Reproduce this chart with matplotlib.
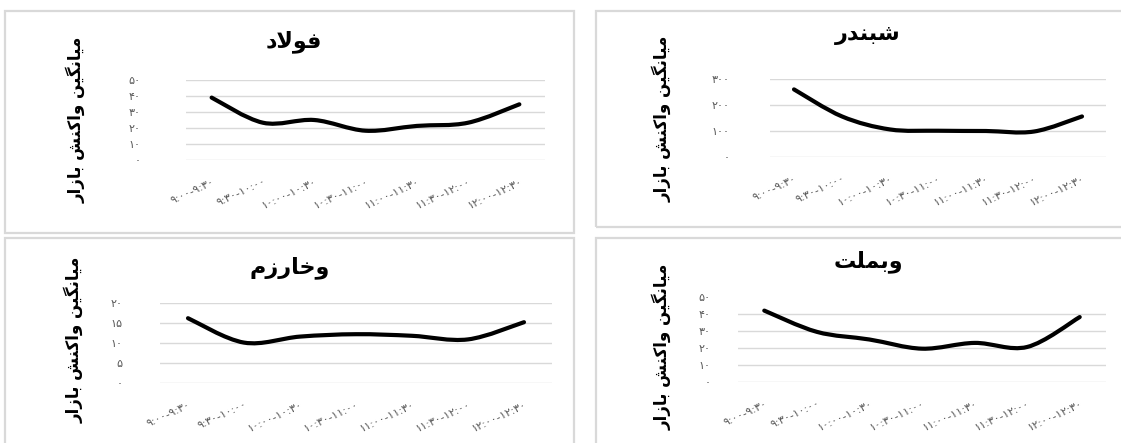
import matplotlib
matplotlib.use("Agg")
import matplotlib.pyplot as plt
from matplotlib.patches import Rectangle, PathPatch
from matplotlib.path import Path
import numpy as np

plt.rcParams['font.family'] = ['DejaVu Sans']

# ---------------- data ----------------
categories = ["9:00-9:30", "9:30-10:00", "10:00-10:30", "10:30-11:00",
              "11:00-11:30", "11:30-12:00", "12:00-12:30"]
y_label_text = "میانگین واکنش بازار"

title_foolad = "فولاد"
values_foolad = [39, 23.3, 25, 18.3, 21.3, 23.3, 34.8]
ticks_foolad = [0, 10, 20, 30, 40, 50]

title_shabandar = "شبندر"
values_shabandar = [260, 156, 106, 101, 100, 98, 156]
ticks_shabandar = [0, 100, 200, 300]

title_kharazm = "وخارزم"
values_kharazm = [16.2, 10.1, 11.6, 12.2, 11.8, 10.9, 15.2]
ticks_kharazm = [0, 5, 10, 15, 20]

title_mellat = "وبملت"
values_mellat = [42, 29.5, 25, 19.6, 23, 20.6, 38.2]
ticks_mellat = [0, 10, 20, 30, 40, 50]

# ---------------- Persian text helpers ----------------
FORMS = {
    'ف': ('\uFED1', '\uFED2', '\uFED3', '\uFED4'),
    'و': ('\uFEED', '\uFEEE', None, None),
    'ل': ('\uFEDD', '\uFEDE', '\uFEDF', '\uFEE0'),
    'ا': ('\uFE8D', '\uFE8E', None, None),
    'د': ('\uFEA9', '\uFEAA', None, None),
    'ش': ('\uFEB5', '\uFEB6', '\uFEB7', '\uFEB8'),
    'ب': ('\uFE8F', '\uFE90', '\uFE91', '\uFE92'),
    'ن': ('\uFEE5', '\uFEE6', '\uFEE7', '\uFEE8'),
    'ر': ('\uFEAD', '\uFEAE', None, None),
    'خ': ('\uFEA5', '\uFEA6', '\uFEA7', '\uFEA8'),
    'ز': ('\uFEAF', '\uFEB0', None, None),
    'م': ('\uFEE1', '\uFEE2', '\uFEE3', '\uFEE4'),
    'ت': ('\uFE95', '\uFE96', '\uFE97', '\uFE98'),
    'ی': ('\uFBFC', '\uFBFD', '\uFBFE', '\uFBFF'),
    'گ': ('\uFB92', '\uFB93', '\uFB94', '\uFB95'),
    'ک': ('\uFB8E', '\uFB8F', '\uFB90', '\uFB91'),
}
LAMALEF = ('\uFEFB', '\uFEFC')


def joins_next(c):
    f = FORMS.get(c)
    return f is not None and f[2] is not None


def shape(text):
    chars = list(text)
    n = len(chars)
    glyphs = []
    i = 0
    while i < n:
        c = chars[i]
        prev = chars[i - 1] if i > 0 else None
        prev_joins = prev is not None and joins_next(prev)
        if c == 'ل' and i + 1 < n and chars[i + 1] == 'ا':
            glyphs.append(LAMALEF[1] if prev_joins else LAMALEF[0])
            i += 2
            continue
        if c not in FORMS:
            glyphs.append(c)
            i += 1
            continue
        f = FORMS[c]
        nxt = chars[i + 1] if i + 1 < n else None
        next_ok = nxt is not None and nxt in FORMS and f[2] is not None
        if prev_joins and next_ok:
            g = f[3]
        elif prev_joins:
            g = f[1]
        elif next_ok:
            g = f[2]
        else:
            g = f[0]
        glyphs.append(g)
        i += 1
    return ''.join(reversed(glyphs))


FA_DIGITS = str.maketrans('0123456789', '۰۱۲۳۴۵۶۷۸۹')


def fa(s):
    return str(s).translate(FA_DIGITS)


def smooth_path(xs, ys):
    pts = np.column_stack([xs, ys]).astype(float)
    n = len(pts)
    verts = [pts[0]]
    codes = [Path.MOVETO]
    for i in range(n - 1):
        p0 = pts[i - 1] if i > 0 else pts[i]
        p1 = pts[i]
        p2 = pts[i + 1]
        p3 = pts[i + 2] if i + 2 < n else pts[i + 1]
        c1 = p1 + (p2 - p0) / 6.0
        c2 = p2 - (p3 - p1) / 6.0
        verts += [c1, c2, p2]
        codes += [Path.CURVE4] * 3
    return Path(verts, codes)


# ---------------- figure ----------------
W, H = 1121, 443
fig = plt.figure(figsize=(W / 100, H / 100), dpi=100)


def fx(px):
    return px / W


def fy(py):
    return 1 - py / H


def panel_box(x0, y0, x1, y1):
    fig.add_artist(Rectangle((fx(x0), fy(y1)), fx(x1 - x0), (y1 - y0) / H,
                             transform=fig.transFigure, fill=False,
                             edgecolor='#d9d9d9', linewidth=1.6))


def make_panel(box, axrect, title, title_xy, ylabel_xy, values, ticks,
               ypad, skip_top_grid=False):
    panel_box(*box)
    x0, y0, x1, y1 = axrect
    ax = fig.add_axes([fx(x0), fy(y1), fx(x1 - x0), (y1 - y0) / H])
    ax.set_xlim(-0.5, len(categories) - 0.5)
    ax.set_ylim(ticks[0], ticks[-1])
    grid_vals = ticks[:-1] if skip_top_grid else ticks
    for t in grid_vals:
        ax.axhline(t, color='#d9d9d9', linewidth=1.0, zorder=1)
    xs = np.arange(len(values))
    ax.add_patch(PathPatch(smooth_path(xs, values), fill=False,
                           edgecolor='black', linewidth=3.0,
                           capstyle='round', joinstyle='round', zorder=3,
                           clip_on=False))
    for s in ax.spines.values():
        s.set_visible(False)
    ax.set_yticks(ticks)
    ax.set_yticklabels([fa(t) for t in ticks])
    ax.set_xticks(xs)
    ax.set_xticklabels([fa(c) for c in categories], rotation=25,
                       ha='right', rotation_mode='anchor')
    ax.tick_params(axis='y', length=0, pad=ypad, labelsize=8,
                   labelcolor='#595959')
    ax.tick_params(axis='x', length=0, pad=12, labelsize=8,
                   labelcolor='#595959')
    fig.text(fx(title_xy[0]), fy(title_xy[1]), shape(title), ha='center',
             va='center', fontsize=16, fontweight='bold', color='black')
    fig.text(fx(ylabel_xy[0]), fy(ylabel_xy[1]), shape(y_label_text),
             ha='center', va='center', rotation=90, fontsize=12,
             fontweight='bold', color='black')
    return ax


make_panel((5, 11, 574, 233), (186, 80, 545, 160), title_foolad, (294, 42),
           (76, 120), values_foolad, ticks_foolad, ypad=33)
make_panel((596, 11, 1125, 227), (770, 79, 1106, 157), title_shabandar,
           (868, 35), (662, 119), values_shabandar, ticks_shabandar, ypad=29)
make_panel((5, 238, 574, 447), (160, 303, 552, 383), title_kharazm,
           (290, 268), (74, 340), values_kharazm, ticks_kharazm, ypad=27)
make_panel((596, 238, 1125, 447), (738, 297, 1106, 382), title_mellat,
           (868, 262), (662, 347), values_mellat, ticks_mellat, ypad=20,
           skip_top_grid=True)

fig.savefig('out.png', dpi=100)
